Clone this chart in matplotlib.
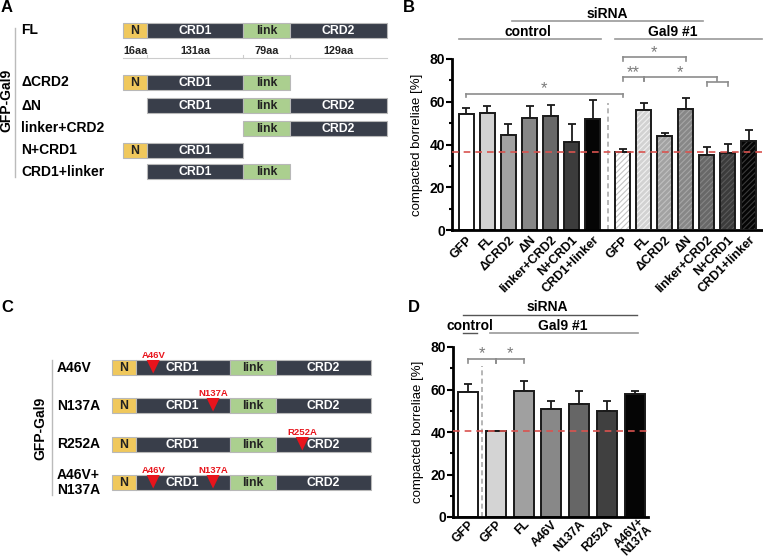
import numpy as np
import matplotlib.pyplot as plt
from matplotlib.patches import Rectangle, Polygon

plt.rcParams['font.family'] = ['Liberation Sans', 'DejaVu Sans']
plt.rcParams['font.weight'] = 'bold'
plt.rcParams['hatch.linewidth'] = 0.8

# ---- panel A: Gal9 deletion constructs
a_rows = ['FL', 'ΔCRD2', 'ΔN', 'linker+CRD2', 'N+CRD1', 'CRD1+linker']
a_domains = [['N', 'CRD1', 'link', 'CRD2'], ['N', 'CRD1', 'link'], ['CRD1', 'link', 'CRD2'],
             ['link', 'CRD2'], ['N', 'CRD1'], ['CRD1', 'link']]
domain_order = ['N', 'CRD1', 'link', 'CRD2']
domain_aa = ['16aa', '131aa', '79aa', '129aa']

# ---- panel B: compacted borreliae [%]
b_labels = ['GFP', 'FL', 'ΔCRD2', 'ΔN', 'linker+CRD2', 'N+CRD1', 'CRD1+linker']
b_ctrl_mean = [54.4, 54.9, 44.4, 52.4, 53.3, 41.2, 52.0]
b_ctrl_err = [2.8, 3.1, 5.3, 5.6, 5.1, 8.5, 8.6]
b_gal9_mean = [36.4, 56.3, 44.1, 56.6, 35.3, 35.9, 41.8]
b_gal9_err = [1.6, 3.1, 1.1, 5.3, 3.7, 4.4, 4.8]

# ---- panel C: point mutants
c_rows = ['A46V', 'N137A', 'R252A', 'A46V+\nN137A']
c_mutations = [['A46V'], ['N137A'], ['R252A'], ['A46V', 'N137A']]

# ---- panel D
d_labels = ['GFP', 'GFP', 'FL', 'A46V', 'N137A', 'R252A', 'A46V+\nN137A']
d_mean = [58.6, 40.3, 59.5, 50.9, 53.3, 49.9, 58.0]
d_err = [4.1, 0.3, 4.3, 3.5, 5.9, 4.5, 1.2]

grays = ['#ffffff', '#d2d2d2', '#a2a2a2', '#878787', '#686868', '#3c3c3c', '#050505']
d_grays = ['#ffffff', '#d4d4d4', '#a0a0a0', '#888888', '#666666', '#404040', '#050505']
dom_color = {'N': '#f0c85c', 'CRD1': '#393e4a', 'link': '#abcf8f', 'CRD2': '#393e4a'}
dom_text = {'N': '#222222', 'CRD1': '#ffffff', 'link': '#222222', 'CRD2': '#ffffff'}
dom_w = {'N': 24, 'CRD1': 96, 'link': 47, 'CRD2': 97}
mut_x = {'A46V': 42, 'N137A': 103, 'R252A': 194}
red = '#d9534f'
brk = '#8c8c8c'

fig = plt.figure(figsize=(7.63, 5.59), dpi=100)
ov = fig.add_axes([0, 0, 1, 1])
ov.set_xlim(0, 763)
ov.set_ylim(559, 0)
ov.axis('off')


def draw_construct(ax, x0, yc, doms, scale=1.0, h=15):
    starts = np.cumsum([0] + [dom_w[d] for d in domain_order])
    for d in doms:
        i = domain_order.index(d)
        x = x0 + starts[i] * scale
        w = dom_w[d] * scale
        ax.add_patch(Rectangle((x, yc - h / 2), w, h, facecolor=dom_color[d],
                               edgecolor='#b8b8b8', lw=0.8))
        ax.text(x + w / 2, yc + 0.5, d, ha='center', va='center', fontsize=8.8,
                color=dom_text[d])


# panel letters
for lab, x, y in [('A', 1, 8), ('B', 403, 8), ('C', 1, 308), ('D', 408, 307)]:
    ov.text(x, y, lab, fontsize=12, ha='left', va='center')

# panel A
a_y = [30.5, 82.5, 105.5, 128.5, 150.5, 171.5]
for name, doms, y in zip(a_rows, a_domains, a_y):
    ov.text(21, y, name, fontsize=10, ha='left', va='center')
    draw_construct(ov, 123, y, doms)
ov.plot([15, 15], [28, 177], color='#bbbbbb', lw=1)
ov.text(6, 100, 'GFP-Gal9', rotation=90, ha='center', va='center', fontsize=10)
starts = np.cumsum([0] + [dom_w[d] for d in domain_order])
ov.plot([123, 123 + starts[-1]], [58, 58], color='#cccccc', lw=0.8)
for i, aa in enumerate(domain_aa):
    xm = 123 + (starts[i] + starts[i + 1]) / 2
    ov.text(xm, 51, aa, ha='center', va='center', fontsize=7.8, color='#222222')
    if i > 0:
        ov.plot([123 + starts[i]] * 2, [55, 58], color='#cccccc', lw=0.8)

# panel C
c_y = [367.5, 405.5, 444.5, 482.5]
cs = 259 / 264
for name, muts, y in zip(c_rows, c_mutations, c_y):
    ov.text(57, y, name, fontsize=10, ha='left', va='center', linespacing=1.05)
    draw_construct(ov, 112, y, domain_order, scale=cs)
    for m in muts:
        xm = 112 + mut_x[m] * cs
        ov.add_patch(Polygon([[xm - 6.5, y - 7.5], [xm + 6.5, y - 7.5], [xm, y + 6]],
                             closed=True, facecolor='#e8141c', edgecolor='none'))
        ov.text(xm, y - 12, m, ha='center', va='center', fontsize=6.8, color='#e8141c')
ov.plot([52, 52], [360, 495], color='#bbbbbb', lw=1)
ov.text(40, 428, 'GFP-Gal9', rotation=90, ha='center', va='center', fontsize=10)


def style_axes(ax):
    for s in ['top', 'right']:
        ax.spines[s].set_visible(False)
    for s in ['left', 'bottom']:
        ax.spines[s].set_linewidth(2)
    ax.set_ylim(0, 80)
    ax.set_yticks([0, 20, 40, 60, 80])
    ax.set_yticks([10, 30, 50, 70], minor=True)
    ax.tick_params(axis='y', which='major', length=4, width=1.5, labelsize=10, pad=1)
    ax.tick_params(axis='y', which='minor', length=2.5, width=1.5)
    ax.tick_params(axis='x', length=0, labelsize=9, pad=3)
    ax.set_ylabel('compacted borreliae [%]', fontsize=9.5, fontweight='normal', labelpad=5)


def bracket(ax, x1, x2, y, drop=2.0, color=brk, ticks=(True, True)):
    ax.plot([x1, x2], [y, y], color=color, lw=1.2, clip_on=False)
    if ticks[0]:
        ax.plot([x1, x1], [y, y - drop], color=color, lw=1.2, clip_on=False)
    if ticks[1]:
        ax.plot([x2, x2], [y, y - drop], color=color, lw=1.2, clip_on=False)


def star(ax, x, y, s):
    ax.text(x, y, s, ha='center', va='center', fontsize=12, color='#7a7a7a',
            fontweight='normal')


# panel B
axb = fig.add_axes([452 / 763, 1 - 230 / 559, 310 / 763, 171 / 559])
style_axes(axb)
bw = 0.71
x_ctrl = np.arange(7)
x_gal = np.arange(7) + 7.43
axb.bar(x_ctrl, b_ctrl_mean, bw, color=grays, edgecolor='#1a1a1a', lw=1.4, zorder=2)
axb.bar(x_gal, b_gal9_mean, bw, color=grays, edgecolor='none', lw=0, zorder=2)
hcols = ['#c4c4c4', '#f0f0f0', '#c0c0c0', '#a6a6a6', '#858585', '#5a5a5a', '#3a3a3a']
for xg, m, hc in zip(x_gal, b_gal9_mean, hcols):
    axb.bar(xg, m, bw, fill=False, hatch='//////', edgecolor=hc, lw=0, zorder=2.5)
axb.bar(x_gal, b_gal9_mean, bw, fill=False, edgecolor='#1a1a1a', lw=1.4, zorder=3)
for xs, m, e in [(x_ctrl, b_ctrl_mean, b_ctrl_err), (x_gal, b_gal9_mean, b_gal9_err)]:
    axb.errorbar(xs, m, yerr=[np.zeros(7), e], fmt='none', ecolor='#1a1a1a',
                 elinewidth=1.3, capsize=3, capthick=1.3, zorder=1)
axb.set_xlim(-0.69, 14.07)
axb.set_xticks(np.concatenate([x_ctrl, x_gal]))
axb.set_xticklabels(b_labels + b_labels, rotation=45, ha='right', rotation_mode='anchor')
axb.axhline(b_gal9_mean[0], color=red, lw=1.2, dashes=(4, 3), zorder=4)
axb.plot([6.74, 6.74], [0, 59.5], color='#aaaaaa', lw=1.2, dashes=(3, 2), zorder=1)
# significance
bracket(axb, x_ctrl[0], x_gal[0], 63.7, drop=1.7)
star(axb, 3.7, 66.0, '*')
bracket(axb, x_gal[0], x_gal[1], 71.7)
star(axb, (x_gal[0] + x_gal[1]) / 2, 73.8, '**')
mid = (x_gal[4] + x_gal[5]) / 2
bracket(axb, x_gal[1], mid, 71.7)
bracket(axb, x_gal[4], x_gal[5], 69.4)
star(axb, (x_gal[1] + mid) / 2, 73.8, '*')
bracket(axb, x_gal[0], x_gal[3], 80.9, drop=1.9)
star(axb, (x_gal[0] + x_gal[3]) / 2, 83.0, '*')
# headers
hc = '#999999'
axb.plot([-0.36, 6.4], [89.4, 89.4], color=hc, lw=1.2, clip_on=False)
axb.plot([7.07, 14.07], [89.4, 89.4], color=hc, lw=1.2, clip_on=False)
axb.plot([2.17, 11.26], [97.8, 97.8], color=hc, lw=1.2, clip_on=False)
axb.text(2.93, 92.6, 'control', ha='center', va='center', fontsize=10)
axb.text(9.83, 92.6, 'Gal9 #1', ha='center', va='center', fontsize=10)
axb.text(6.69, 101.2, 'siRNA', ha='center', va='center', fontsize=10)

# panel D
axd = fig.add_axes([453 / 763, 1 - 517 / 559, 195 / 763, 170 / 559])
style_axes(axd)
axd.tick_params(axis='x', pad=1, labelsize=8.8)
xd = np.arange(7)
axd.bar(xd, d_mean, 0.72, color=d_grays, edgecolor='#1a1a1a', lw=1.4, zorder=2)
axd.errorbar(xd, d_mean, yerr=[np.zeros(7), d_err], fmt='none', ecolor='#1a1a1a',
             elinewidth=1.3, capsize=3, capthick=1.3, zorder=1)
axd.set_xlim(-0.54, 6.47)
axd.set_xticks(xd)
axd.set_xticklabels(d_labels[:-1] + [''], rotation=45, ha='right', rotation_mode='anchor')
# the two-line label is placed by hand, nudged along its own direction so it fits
axd.annotate(d_labels[-1], xy=(xd[-1], 0), xycoords=('data', 'axes fraction'),
             xytext=(2.2, 1.2), textcoords='offset points', rotation=45, ha='right',
             va='top', rotation_mode='anchor', fontsize=8.6, linespacing=0.92)
axd.axhline(d_mean[1], color=red, lw=1.2, dashes=(4, 3), zorder=4)
axd.plot([0.5, 0.5], [0, 71], color='#aaaaaa', lw=1.2, dashes=(3, 2), zorder=1)
bracket(axd, 0, 1, 74.4)
bracket(axd, 1, 2, 74.4)
star(axd, 0.5, 76.8, '*')
star(axd, 1.5, 76.8, '*')
axd.plot([-0.18, 0.32], [86.6, 86.6], color='#555555', lw=1.0, clip_on=False)
axd.plot([0.79, 6.12], [86.6, 86.6], color=hc, lw=1.2, clip_on=False)
axd.plot([-0.18, 6.08], [95.1, 95.1], color='#555555', lw=1.0, clip_on=False)
axd.text(0.07, 90.0, 'control', ha='center', va='center', fontsize=10)
axd.text(3.42, 90.0, 'Gal9 #1', ha='center', va='center', fontsize=10)
axd.text(2.84, 98.7, 'siRNA', ha='center', va='center', fontsize=10)

fig.savefig('out.png', dpi=100)
